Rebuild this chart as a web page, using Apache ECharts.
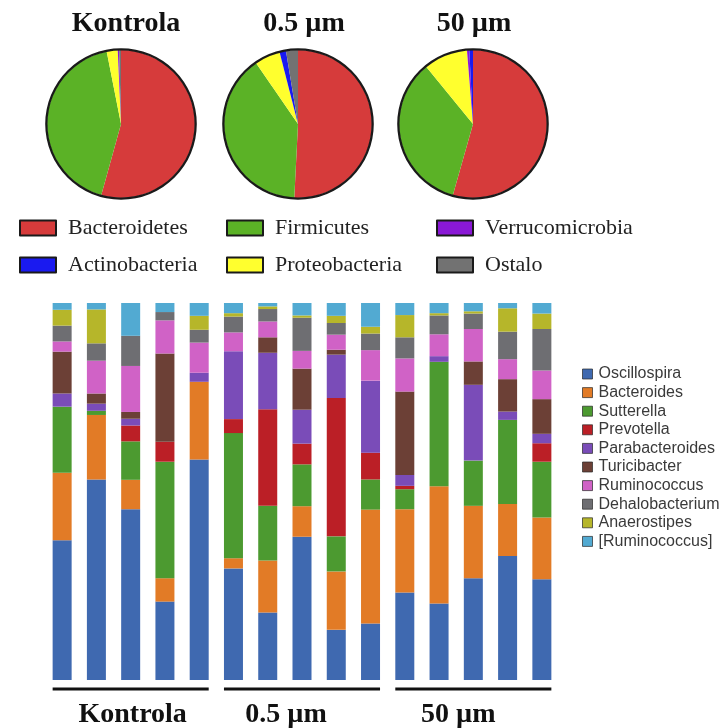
<!DOCTYPE html>
<html>
<head>
<meta charset="utf-8">
<script src="https://cdn.jsdelivr.net/npm/echarts/dist/echarts.min.js"></script>
<style>
  html, body { margin: 0; padding: 0; background: #ffffff; }
  #chart { width: 723px; height: 728px; }
</style>
</head>
<body>
<div id="chart"></div>
<script>
// Phylum composition (pie charts), percent of reads
const phyla = ['Bacteroidetes', 'Firmicutes', 'Proteobacteria', 'Verrucomicrobia', 'Actinobacteria', 'Ostalo'];
const phylumColors = ['#d63b3b', '#5bb226', '#ffff2e', '#8a18d6', '#1a1af0', '#727272'];
const pieKontrola = [54.3, 42.6, 2.4, 0.3, 0, 0.4];
const pie05 = [50.8, 39.6, 5.6, 0, 1.4, 2.6];
const pie50 = [54.4, 34.7, 9.6, 0.5, 0.8, 0];
const groupNames = ['Kontrola', '0.5 µm', '50 µm'];

// Genus composition of each sample (stacked bars), percent
const samples = ['K1', 'K2', 'K3', 'K4', 'K5', 'A1', 'A2', 'A3', 'A4', 'A5', 'B1', 'B2', 'B3', 'B4', 'B5'];
const genera = ['Oscillospira', 'Bacteroides', 'Sutterella', 'Prevotella', 'Parabacteroides',
                'Turicibacter', 'Ruminococcus', 'Dehalobacterium', 'Anaerostipes', '[Ruminococcus]'];
const genusColors = ['#3f69b0', '#e27b26', '#4c9a30', '#bb1f26', '#7a4cb8',
                     '#6c4036', '#d062c6', '#6e6e72', '#b6b62a', '#52aad2'];
const oscillospira    = [37.1, 53.2, 45.3, 20.8, 58.5, 29.6, 17.9, 38.0, 13.3, 15.0, 23.2, 20.3, 27.0, 32.9, 26.7];
const bacteroides     = [17.9, 17.1, 7.8, 6.2, 20.6, 2.7, 13.8, 8.1, 15.5, 30.2, 22.1, 31.1, 19.2, 13.8, 16.4];
const sutterella      = [17.5, 1.1, 10.2, 30.9, 0, 33.2, 14.5, 11.1, 9.3, 8.0, 5.3, 33.0, 12.0, 22.3, 14.8];
const prevotella      = [0, 0, 4.2, 5.3, 0, 3.7, 25.6, 5.5, 36.7, 7.1, 0.9, 0, 0, 0, 4.9];
const parabacteroides = [3.5, 1.9, 1.8, 0, 2.4, 18.0, 15.0, 9.0, 11.5, 19.1, 2.9, 1.5, 20.1, 2.2, 2.5];
const turicibacter    = [11.1, 2.7, 1.8, 23.4, 0, 0, 4.1, 10.9, 1.3, 0, 22.1, 0, 6.2, 8.6, 9.2];
const ruminococcus    = [2.7, 8.7, 12.2, 8.8, 8.0, 5.0, 4.2, 4.7, 4.0, 8.1, 8.8, 5.8, 8.6, 5.3, 7.6];
const dehalobacterium = [4.2, 4.6, 8.0, 2.2, 3.4, 4.2, 3.3, 8.8, 3.1, 4.4, 5.6, 5.0, 4.1, 7.3, 11.0];
const anaerostipes    = [4.2, 9.0, 0, 0, 3.7, 0.9, 0.7, 0.6, 1.9, 1.8, 5.9, 0.6, 0.6, 6.2, 4.1];
const ruminococcusBr  = [1.8, 1.7, 8.7, 2.4, 3.4, 2.7, 0.9, 3.3, 3.4, 6.3, 3.2, 2.7, 2.2, 1.4, 2.8];
const genusValues = [oscillospira, bacteroides, sutterella, prevotella, parabacteroides,
                     turicibacter, ruminococcus, dehalobacterium, anaerostipes, ruminococcusBr];
// sample groups (first and last sample of each group)
const groupSpans = [['K1', 'K5'], ['A1', 'A5'], ['B1', 'B5']];

const chart = echarts.init(document.getElementById('chart'), null, { renderer: 'canvas' });

const pieCenters = [[121, 124], [298, 124], [473, 124]];
const pieValues = [pieKontrola, pie05, pie50];
const PIE_R = 74;

const series = [];
pieValues.forEach(function (vals, k) {
  series.push({
    type: 'pie',
    center: pieCenters[k],
    radius: [0, PIE_R],
    startAngle: 90,
    clockwise: true,
    silent: true,
    color: phylumColors,
    label: { show: false },
    labelLine: { show: false },
    itemStyle: { borderWidth: 0 },
    emphasis: { disabled: true },
    data: phyla.map(function (n, i) { return { name: n, value: vals[i] }; })
  });
  // dark outline round each pie
  series.push({
    type: 'pie',
    center: pieCenters[k],
    radius: [PIE_R - 0.5, PIE_R + 1.8],
    silent: true,
    label: { show: false },
    labelLine: { show: false },
    emphasis: { disabled: true },
    itemStyle: { color: '#1a1a1a' },
    data: [{ name: 'outline', value: 1 }]
  });
});

genera.forEach(function (g, i) {
  series.push({
    type: 'bar',
    name: g,
    stack: 'genus',
    barWidth: 19,
    silent: true,
    itemStyle: { color: genusColors[i] },
    emphasis: { disabled: true },
    data: genusValues[i]
  });
});

const pieLegendBase = {
  orient: 'vertical',
  top: 212,
  itemWidth: 36,
  itemHeight: 15,
  itemGap: 15,
  icon: 'rect',
  selectedMode: false,
  itemStyle: { borderColor: '#1a1a1a', borderWidth: 2 },
  textStyle: { fontFamily: 'Liberation Serif', fontSize: 22, color: '#222', lineHeight: 22, padding: [0, 0, 0, 7] }
};

chart.setOption({
  backgroundColor: '#ffffff',
  animation: false,
  legend: [
    Object.assign({}, pieLegendBase, { left: 14, data: ['Bacteroidetes', 'Actinobacteria'] }),
    Object.assign({}, pieLegendBase, { left: 221, data: ['Firmicutes', 'Proteobacteria'] }),
    Object.assign({}, pieLegendBase, { left: 431, data: ['Verrucomicrobia', 'Ostalo'] }),
    {
      orient: 'vertical',
      left: 577,
      top: 361,
      itemWidth: 10,
      itemHeight: 10,
      itemGap: 2.6,
      icon: 'rect',
      selectedMode: false,
      itemStyle: { borderColor: 'rgba(40,40,40,0.7)', borderWidth: 1 },
      textStyle: { fontFamily: 'Liberation Sans', fontSize: 16, lineHeight: 16, color: '#3a3a3a', padding: [0, 0, 0, 1] },
      data: genera
    }
  ],
  grid: { left: 45, right: 164, top: 303, bottom: 48, containLabel: false },
  xAxis: {
    type: 'category',
    data: samples,
    axisLine: { show: false },
    axisTick: { show: false },
    axisLabel: { show: false },
    splitLine: { show: false }
  },
  yAxis: {
    type: 'value',
    min: 0,
    max: 100,
    show: false
  },
  series: series
});

// group underlines and labels, placed from the category axis
const half = 19 / 2;
const baseY = chart.convertToPixel({ yAxisIndex: 0 }, 0);
const labelShift = [2, -16, -15];
const graphics = [];
groupSpans.forEach(function (span, k) {
  const x0 = chart.convertToPixel({ xAxisIndex: 0 }, span[0]) - half;
  const x1 = chart.convertToPixel({ xAxisIndex: 0 }, span[1]) + half;
  graphics.push({
    type: 'line',
    silent: true,
    shape: { x1: x0, y1: baseY + 9, x2: x1, y2: baseY + 9 },
    style: { stroke: '#111', lineWidth: 3 }
  });
  graphics.push({
    type: 'text',
    silent: true,
    x: (x0 + x1) / 2 + labelShift[k],
    y: baseY + 35,
    style: {
      text: groupNames[k],
      font: 'bold 28px "Liberation Serif"',
      fill: '#111',
      align: 'center',
      verticalAlign: 'middle'
    }
  });
});
// titles above the pies
const titleShift = [5, 6, 1];
pieCenters.forEach(function (c, k) {
  graphics.push({
    type: 'text',
    silent: true,
    x: c[0] + titleShift[k],
    y: 24,
    style: {
      text: groupNames[k],
      font: 'bold 28px "Liberation Serif"',
      fill: '#111',
      align: 'center',
      verticalAlign: 'middle'
    }
  });
});
chart.setOption({ graphic: graphics });
</script>
</body>
</html>
